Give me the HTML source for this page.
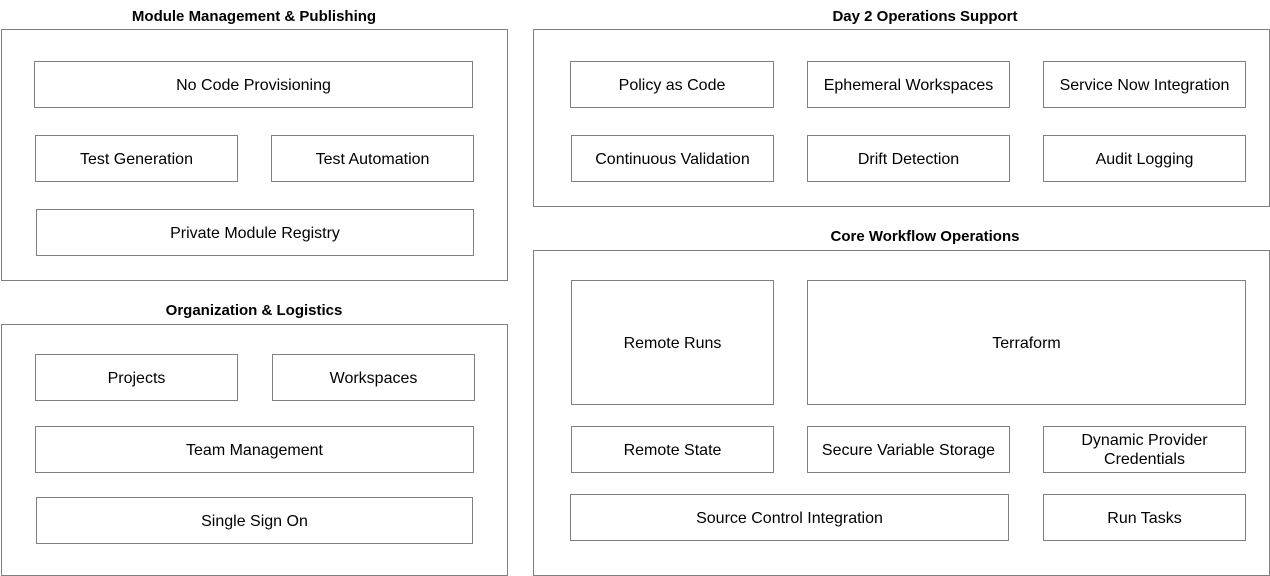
<!DOCTYPE html>
<html><head><meta charset="utf-8"><style>
body{margin:0;width:1270px;height:576px;background:#fff;position:relative;overflow:hidden;font-family:"Liberation Sans",Arial,sans-serif;}
.b{position:absolute;border:1px solid #808080;box-sizing:border-box;display:flex;align-items:center;justify-content:center;text-align:center;font-size:16px;color:#000;line-height:19px;padding-top:1px;}
.g{position:absolute;border:1px solid #808080;box-sizing:border-box;}
.t{position:absolute;font-weight:bold;font-size:15px;text-align:center;transform:translateX(-50%);white-space:nowrap;line-height:18px;}
</style></head><body>
<div class="t" style="left:254px;top:8px">Module Management &amp; Publishing</div>
<div class="g" style="left:1px;top:29px;width:507px;height:252px"></div>
<div class="b" style="left:34px;top:61px;width:439px;height:47px">No Code Provisioning</div>
<div class="b" style="left:35px;top:135px;width:203px;height:47px">Test Generation</div>
<div class="b" style="left:271px;top:135px;width:203px;height:47px">Test Automation</div>
<div class="b" style="left:36px;top:209px;width:438px;height:47px">Private Module Registry</div>

<div class="t" style="left:254px;top:302px">Organization &amp; Logistics</div>
<div class="g" style="left:1px;top:324px;width:507px;height:252px"></div>
<div class="b" style="left:35px;top:354px;width:203px;height:47px">Projects</div>
<div class="b" style="left:272px;top:354px;width:203px;height:47px">Workspaces</div>
<div class="b" style="left:35px;top:426px;width:439px;height:47px">Team Management</div>
<div class="b" style="left:36px;top:497px;width:437px;height:47px">Single Sign On</div>

<div class="t" style="left:925px;top:8px">Day 2 Operations Support</div>
<div class="g" style="left:533px;top:29px;width:737px;height:178px"></div>
<div class="b" style="left:570px;top:61px;width:204px;height:47px">Policy as Code</div>
<div class="b" style="left:807px;top:61px;width:203px;height:47px">Ephemeral Workspaces</div>
<div class="b" style="left:1043px;top:61px;width:203px;height:47px">Service Now Integration</div>
<div class="b" style="left:571px;top:135px;width:203px;height:47px">Continuous Validation</div>
<div class="b" style="left:807px;top:135px;width:203px;height:47px">Drift Detection</div>
<div class="b" style="left:1043px;top:135px;width:203px;height:47px">Audit Logging</div>

<div class="t" style="left:925px;top:228px">Core Workflow Operations</div>
<div class="g" style="left:533px;top:250px;width:737px;height:326px"></div>
<div class="b" style="left:571px;top:280px;width:203px;height:125px">Remote Runs</div>
<div class="b" style="left:807px;top:280px;width:439px;height:125px">Terraform</div>
<div class="b" style="left:571px;top:426px;width:203px;height:47px">Remote State</div>
<div class="b" style="left:807px;top:426px;width:203px;height:47px">Secure Variable Storage</div>
<div class="b" style="left:1043px;top:426px;width:203px;height:47px">Dynamic Provider<br>Credentials</div>
<div class="b" style="left:570px;top:494px;width:439px;height:47px">Source Control Integration</div>
<div class="b" style="left:1043px;top:494px;width:203px;height:47px">Run Tasks</div>
</body></html>
